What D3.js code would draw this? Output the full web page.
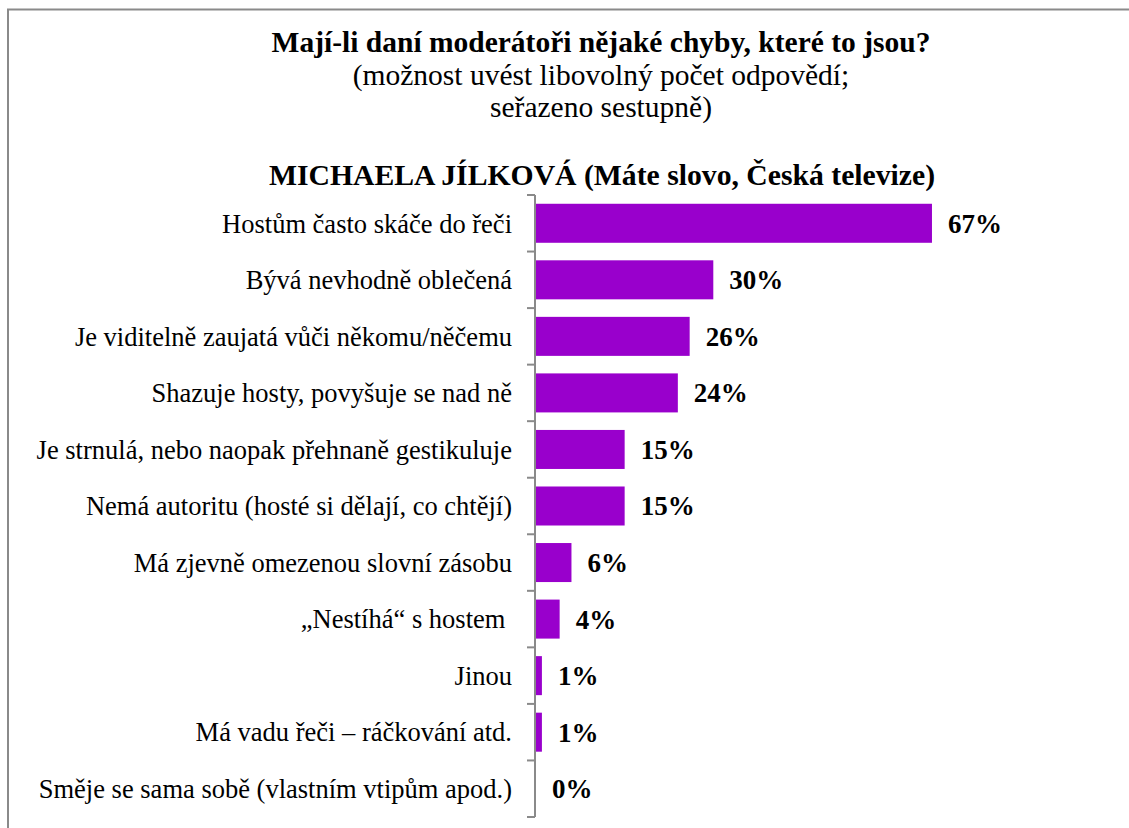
<!DOCTYPE html>
<html lang="cs">
<head>
    <meta charset="UTF-8">
    <title>Chyby moderátorů</title>
    <script src="https://d3js.org/d3.v7.min.js"></script>
    <style>
        body { margin: 0; background: #fff; }
        svg { display: block; font-family: "Liberation Serif", "Times New Roman", serif; }
    </style>
</head>
<body>
    <div id="chart"></div>

    <script>
        const categories = [
            "Hostům často skáče do řeči",
            "Bývá nevhodně oblečená",
            "Je viditelně zaujatá vůči někomu/něčemu",
            "Shazuje hosty, povyšuje se nad ně",
            "Je strnulá, nebo naopak přehnaně gestikuluje",
            "Nemá autoritu (hosté si dělají, co chtějí)",
            "Má zjevně omezenou slovní zásobu",
            "„Nestíhá“ s hostem ",
            "Jinou",
            "Má vadu řeči – ráčkování atd.",
            "Směje se sama sobě (vlastním vtipům apod.)"
        ];
        const values = [67, 30, 26, 24, 15, 15, 6, 4, 1, 1, 0];

        const titleLines = [
            "Mají-li daní moderátoři nějaké chyby, které to jsou?",
            "(možnost uvést libovolný počet odpovědí;",
            "seřazeno sestupně)"
        ];
        const subTitle = "MICHAELA JÍLKOVÁ (Máte slovo, Česká televize)";

        const width = 1129, height = 828;
        const plotLeft = 536, plotTop = 195, plotBottom = 817;

        const svg = d3.select("#chart").append("svg")
            .attr("width", width)
            .attr("height", height);

        // frame (top and left edge only)
        svg.append("path")
            .attr("d", `M8,${height} L8,9.5 L${width},9.5`)
            .attr("fill", "none")
            .attr("stroke", "#8a8a8a")
            .attr("stroke-width", 2);

        // titles
        svg.append("text")
            .attr("x", 601).attr("y", 52)
            .attr("text-anchor", "middle")
            .style("font-size", "29.5px").style("font-weight", "bold")
            .text(titleLines[0]);
        svg.append("text")
            .attr("x", 601).attr("y", 85)
            .attr("text-anchor", "middle")
            .style("font-size", "29.5px")
            .text(titleLines[1]);
        svg.append("text")
            .attr("x", 601).attr("y", 117)
            .attr("text-anchor", "middle")
            .style("font-size", "29.5px")
            .text(titleLines[2]);
        svg.append("text")
            .attr("x", 602).attr("y", 185)
            .attr("text-anchor", "middle")
            .style("font-size", "29.7px").style("font-weight", "bold")
            .text(subTitle);

        const x = d3.scaleLinear().domain([0, 100]).range([plotLeft, plotLeft + 591]);
        const y = d3.scaleBand().domain(categories).range([plotTop, plotBottom]).padding(0);
        const step = y.bandwidth();

        // bars
        svg.selectAll("rect.bar")
            .data(values)
            .enter().append("rect")
            .attr("class", "bar")
            .attr("x", x(0))
            .attr("y", (d, i) => y(categories[i]) + step * 0.155)
            .attr("width", d => x(d) - x(0))
            .attr("height", step * 0.69)
            .attr("fill", "#9900cc");

        // value labels
        svg.selectAll("text.val")
            .data(values)
            .enter().append("text")
            .attr("class", "val")
            .attr("x", d => x(d) + 16)
            .attr("y", (d, i) => y(categories[i]) + step / 2)
            .attr("dy", "0.35em")
            .style("font-size", "27px").style("font-weight", "bold")
            .text(d => d + "%");

        // category axis
        const axis = svg.append("g");
        axis.append("line")
            .attr("x1", plotLeft - 1).attr("x2", plotLeft - 1)
            .attr("y1", plotTop).attr("y2", plotBottom)
            .attr("stroke", "#8a8a8a").attr("stroke-width", 2);
        const ticks = categories.map(c => y(c)).concat([plotBottom]);
        axis.selectAll("line.tick")
            .data(ticks)
            .enter().append("line")
            .attr("class", "tick")
            .attr("x1", plotLeft - 9).attr("x2", plotLeft - 1)
            .attr("y1", d => d).attr("y2", d => d)
            .attr("stroke", "#8a8a8a").attr("stroke-width", 2);

        axis.selectAll("text.cat")
            .data(categories)
            .enter().append("text")
            .attr("class", "cat")
            .attr("x", 512)
            .attr("y", d => y(d) + step / 2)
            .attr("dy", "0.35em")
            .attr("text-anchor", "end")
            .style("font-size", "26.5px")
            .style("white-space", "pre")
            .text(d => d);
    </script>
</body>
</html>
